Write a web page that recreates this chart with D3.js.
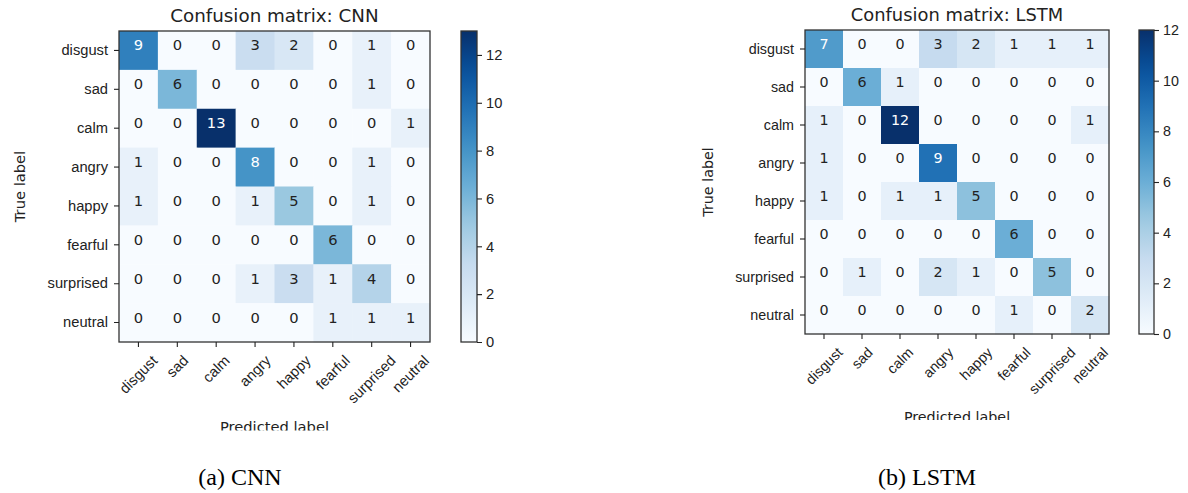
<!DOCTYPE html>
<meta charset="utf-8">
<style>

body {
  margin: 0;
  background: #fff;
}

svg {
  font-family: "DejaVu Sans", sans-serif;
}

.axis path {
  display: none;
}

.axis line {
  stroke: #222;
  stroke-width: 1.1px;
}

.axis text {
  fill: #222;
}

.frame {
  fill: none;
  stroke: #333;
  stroke-width: 1.3px;
}

.caption {
  font-family: "Liberation Serif", "Times New Roman", serif;
  font-size: 24px;
  fill: #000;
}

</style>
<body>
  <script src="https://d3js.org/d3.v7.min.js"></script>
  <script>

    var emotions = ["disgust", "sad", "calm", "angry", "happy", "fearful", "surprised", "neutral"];

    var cnnValues = [
      [9, 0, 0, 3, 2, 0, 1, 0],
      [0, 6, 0, 0, 0, 0, 1, 0],
      [0, 0, 13, 0, 0, 0, 0, 1],
      [1, 0, 0, 8, 0, 0, 1, 0],
      [1, 0, 0, 1, 5, 0, 1, 0],
      [0, 0, 0, 0, 0, 6, 0, 0],
      [0, 0, 0, 1, 3, 1, 4, 0],
      [0, 0, 0, 0, 0, 1, 1, 1]
    ];

    var lstmValues = [
      [7, 0, 0, 3, 2, 1, 1, 1],
      [0, 6, 1, 0, 0, 0, 0, 0],
      [1, 0, 12, 0, 0, 0, 0, 1],
      [1, 0, 0, 9, 0, 0, 0, 0],
      [1, 0, 1, 1, 5, 0, 0, 0],
      [0, 0, 0, 0, 0, 6, 0, 0],
      [0, 1, 0, 2, 1, 0, 5, 0],
      [0, 0, 0, 0, 0, 1, 0, 2]
    ];

    var colorbarTicks = [0, 2, 4, 6, 8, 10, 12];

    // matplotlib "Blues" = linear steps through the ColorBrewer colours
    var blues = d3.piecewise(d3.interpolateRgb, ["#f7fbff", "#deebf7", "#c6dbef", "#9ecae1",
      "#6baed6", "#4292c6", "#2171b5", "#08519c", "#08306b"]);

    var panels = [
      {id: "cnn", title: "Confusion matrix: CNN", caption: "(a) CNN", values: cnnValues,
       left: 119, top: 31, size: 311, cbLeft: 461, cbWidth: 16, font: 14.7, titleFont: 18.3,
       titleY: 21.5, yLabelX: 25, xLabelY: 432, clip: [0, 0, 560, 430.5], captionX: 240},
      {id: "lstm", title: "Confusion matrix: LSTM", caption: "(b) LSTM", values: lstmValues,
       left: 805, top: 30, size: 304, cbLeft: 1139, cbWidth: 15, font: 14.3, titleFont: 17.9,
       titleY: 20.5, yLabelX: 713, xLabelY: 421.5, clip: [640, 0, 548, 420], captionX: 927}
    ];

    var svg = d3.select("body").append("svg")
        .attr("width", 1188)
        .attr("height", 493);

    var defs = svg.append("defs");

    panels.forEach(function(p) {
      var vmax = d3.max(p.values, function(r) { return d3.max(r); });
      var color = function(v) { return blues(v / vmax); };

      defs.append("clipPath")
          .attr("id", "clip-" + p.id)
        .append("rect")
          .attr("x", p.clip[0]).attr("y", p.clip[1])
          .attr("width", p.clip[2]).attr("height", p.clip[3]);

      var g = svg.append("g")
          .attr("clip-path", "url(#clip-" + p.id + ")");

      var x = d3.scaleBand().domain(emotions).range([p.left, p.left + p.size]);
      var y = d3.scaleBand().domain(emotions).range([p.top, p.top + p.size]);

      // cells
      var cells = [];
      p.values.forEach(function(row, i) {
        row.forEach(function(v, j) {
          cells.push({row: emotions[i], col: emotions[j], value: v});
        });
      });

      g.selectAll("rect.cell")
          .data(cells)
        .enter().append("rect")
          .attr("class", "cell")
          .attr("x", function(d) { return x(d.col); })
          .attr("y", function(d) { return y(d.row); })
          .attr("width", x.bandwidth() + 0.5)
          .attr("height", y.bandwidth() + 0.5)
          .attr("fill", function(d) { return color(d.value); });

      g.selectAll("text.num")
          .data(cells)
        .enter().append("text")
          .attr("class", "num")
          .attr("x", function(d) { return x(d.col) + x.bandwidth() / 2; })
          .attr("y", function(d) { return y(d.row) + y.bandwidth() / 2; })
          .attr("text-anchor", "middle")
          .style("font-size", p.font + "px")
          .attr("fill", function(d) { return d.value > vmax / 2 ? "#fff" : "#222"; })
          .text(function(d) { return d.value; });

      g.append("rect")
          .attr("class", "frame")
          .attr("x", p.left).attr("y", p.top)
          .attr("width", p.size).attr("height", p.size);

      // axes
      g.append("g")
          .attr("class", "axis")
          .attr("transform", "translate(" + p.left + ",0)")
          .call(d3.axisLeft(y).tickSize(5).tickPadding(6))
          .selectAll("text")
          .style("font-size", p.font + "px");

      var h = p.font * 1.16;
      g.append("g")
          .attr("class", "axis")
          .attr("transform", "translate(0," + (p.top + p.size) + ")")
          .call(d3.axisBottom(x).tickSize(5).tickPadding(6))
          .selectAll("text")
          .style("font-size", p.font + "px")
          .attr("y", 0)
          .attr("dy", null)
          .attr("text-anchor", "middle")
          .attr("dominant-baseline", "central")
          .attr("transform", function() {
            var s = (this.getComputedTextLength() + h) * 0.7071;
            return "translate(0," + (10 + s / 2) + ") rotate(-45)";
          });

      g.append("text")
          .attr("x", p.left + p.size / 2)
          .attr("y", p.titleY)
          .attr("text-anchor", "middle")
          .style("font-size", p.titleFont + "px")
          .attr("fill", "#222")
          .text(p.title);

      g.append("text")
          .attr("transform", "translate(" + p.yLabelX + "," + (p.top + p.size / 2) + ") rotate(-90)")
          .attr("text-anchor", "middle")
          .style("font-size", p.font + "px")
          .attr("fill", "#222")
          .text("True label");

      g.append("text")
          .attr("x", p.left + p.size / 2)
          .attr("y", p.xLabelY)
          .attr("text-anchor", "middle")
          .style("font-size", p.font + "px")
          .attr("fill", "#222")
          .text("Predicted label");

      // colorbar
      var grad = defs.append("linearGradient")
          .attr("id", "grad-" + p.id)
          .attr("x1", 0).attr("y1", 1).attr("x2", 0).attr("y2", 0);
      grad.selectAll("stop")
          .data(d3.range(0, 1.0001, 0.05))
        .enter().append("stop")
          .attr("offset", function(t) { return t; })
          .attr("stop-color", function(t) { return blues(t); });

      var cy = d3.scaleLinear().domain([0, vmax]).range([p.top + p.size, p.top]);

      g.append("rect")
          .attr("x", p.cbLeft).attr("y", p.top)
          .attr("width", p.cbWidth).attr("height", p.size)
          .attr("fill", "url(#grad-" + p.id + ")");

      g.append("rect")
          .attr("class", "frame")
          .attr("x", p.cbLeft).attr("y", p.top)
          .attr("width", p.cbWidth).attr("height", p.size);

      g.append("g")
          .attr("class", "axis")
          .attr("transform", "translate(" + (p.cbLeft + p.cbWidth) + ",0)")
          .call(d3.axisRight(cy).tickValues(colorbarTicks.filter(function(t) { return t <= vmax; })).tickSize(5).tickPadding(4))
          .selectAll("text")
          .style("font-size", p.font + "px");

      svg.append("text")
          .attr("class", "caption")
          .attr("x", p.captionX)
          .attr("y", 485)
          .attr("text-anchor", "middle")
          .text(p.caption);
    });

  </script>
</body>
</html>
